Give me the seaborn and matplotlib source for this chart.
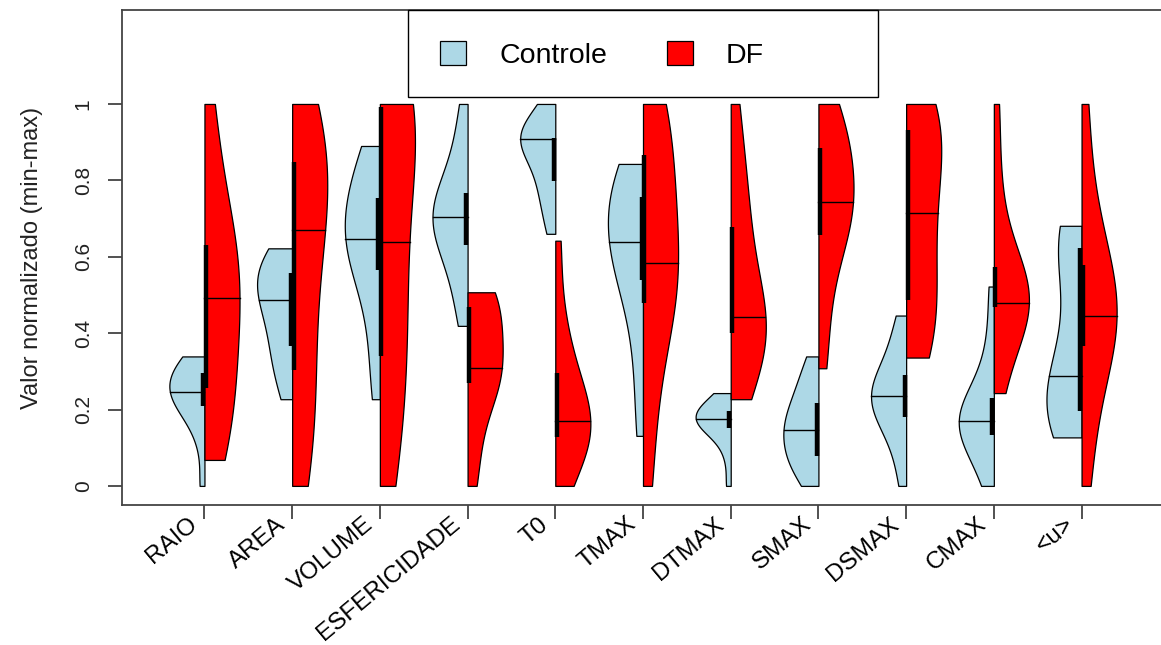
import numpy as np
import pandas as pd
import matplotlib
matplotlib.use("Agg")
import matplotlib.pyplot as plt
import matplotlib.transforms as mtransforms
import seaborn as sns
from matplotlib.patches import Patch, Rectangle

# Variáveis (eixo x) e valores normalizados
variaveis = ["RAIO", "AREA", "VOLUME", "ESFERICIDADE", "T0", "TMAX",
             "DTMAX", "SMAX", "DSMAX", "CMAX", "<u>"]
grupos = ["Controle", "DF"]

controle = {
    "RAIO": [0.0, 0.12, 0.18, 0.208, 0.22, 0.235, 0.247, 0.26, 0.275, 0.295, 0.31, 0.325, 0.339],
    "AREA": [0.227, 0.29, 0.34, 0.365, 0.42, 0.46, 0.487, 0.51, 0.53, 0.557, 0.58, 0.6, 0.622],
    "VOLUME": [0.227, 0.35, 0.48, 0.565, 0.6, 0.63, 0.647, 0.68, 0.72, 0.753, 0.8, 0.85, 0.89],
    "ESFERICIDADE": [0.419, 0.5, 0.58, 0.631, 0.66, 0.685, 0.703, 0.72, 0.745, 0.766, 0.82, 0.9, 1.0],
    "T0": [0.66, 0.72, 0.77, 0.797, 0.84, 0.88, 0.907, 0.908, 0.909, 0.91, 0.94, 0.97, 1.0],
    "TMAX": [0.131, 0.3, 0.45, 0.539, 0.58, 0.61, 0.638, 0.68, 0.72, 0.757, 0.79, 0.82, 0.843],
    "DTMAX": [0.0, 0.08, 0.13, 0.151, 0.16, 0.168, 0.175, 0.18, 0.188, 0.195, 0.21, 0.225, 0.243],
    "SMAX": [0.0, 0.04, 0.06, 0.077, 0.11, 0.13, 0.147, 0.17, 0.19, 0.216, 0.25, 0.29, 0.339],
    "DSMAX": [0.0, 0.09, 0.15, 0.181, 0.2, 0.22, 0.236, 0.25, 0.27, 0.291, 0.33, 0.39, 0.446],
    "CMAX": [0.0, 0.06, 0.11, 0.134, 0.15, 0.16, 0.17, 0.19, 0.21, 0.23, 0.28, 0.38, 0.522],
    "<u>": [0.127, 0.16, 0.18, 0.195, 0.23, 0.26, 0.288, 0.38, 0.5, 0.622, 0.65, 0.67, 0.681],
}

df_grupo = {
    "RAIO": [0.068, 0.12, 0.2, 0.256, 0.33, 0.42, 0.491, 0.52, 0.58, 0.631, 0.7, 0.82, 1.0],
    "AREA": [0.0, 0.1, 0.2, 0.304, 0.42, 0.55, 0.67, 0.72, 0.78, 0.849, 0.9, 0.95, 1.0],
    "VOLUME": [0.0, 0.12, 0.25, 0.339, 0.45, 0.56, 0.638, 0.8, 0.95, 0.993, 1.0, 1.0, 1.0],
    "ESFERICIDADE": [0.0, 0.1, 0.2, 0.269, 0.285, 0.3, 0.308, 0.36, 0.42, 0.469, 0.49, 0.5, 0.507],
    "T0": [0.0, 0.05, 0.1, 0.129, 0.15, 0.16, 0.171, 0.2, 0.25, 0.295, 0.35, 0.45, 0.642],
    "TMAX": [0.0, 0.2, 0.38, 0.478, 0.52, 0.55, 0.583, 0.65, 0.75, 0.866, 0.92, 0.96, 1.0],
    "DTMAX": [0.227, 0.29, 0.34, 0.4, 0.41, 0.43, 0.443, 0.5, 0.6, 0.679, 0.75, 0.85, 1.0],
    "SMAX": [0.308, 0.45, 0.58, 0.657, 0.69, 0.72, 0.742, 0.78, 0.83, 0.884, 0.92, 0.96, 1.0],
    "DSMAX": [0.336, 0.37, 0.42, 0.487, 0.56, 0.64, 0.714, 0.78, 0.86, 0.932, 0.96, 0.98, 1.0],
    "CMAX": [0.243, 0.33, 0.42, 0.469, 0.472, 0.476, 0.48, 0.5, 0.54, 0.574, 0.65, 0.8, 1.0],
    "<u>": [0.0, 0.15, 0.28, 0.365, 0.4, 0.42, 0.446, 0.49, 0.53, 0.579, 0.65, 0.78, 1.0],
}

cores = ["lightblue", "red"]

# Montando o dataframe longo
linhas = []
for var in variaveis:
    for v in controle[var]:
        linhas.append((var, "Controle", v))
    for v in df_grupo[var]:
        linhas.append((var, "DF", v))
dados = pd.DataFrame(linhas, columns=["variavel", "grupo", "valor"])

plt.rcParams["font.family"] = ["Liberation Sans", "DejaVu Sans"]

fig = plt.figure(figsize=(11.61, 6.45), dpi=100)
ax = fig.add_axes([122 / 1161, 1 - 505 / 645, 1042 / 1161, 495 / 645])

sns.violinplot(data=dados, x="variavel", y="valor", hue="grupo", order=variaveis,
               hue_order=grupos, split=True, cut=0, inner=None, density_norm="width",
               common_norm=False, palette=cores, linecolor="black", linewidth=0.9,
               width=0.8, gap=0, saturation=1, legend=False, ax=ax)

# Linhas de mediana e barra do intervalo interquartil (estilo vioplot)
for col in ax.collections:
    for path in col.get_paths():
        verts = path.vertices
        if len(verts) < 5:
            continue
        xm = verts[:, 0].mean()
        pos = int(round(xm))
        lado = -1 if xm < pos else 1
        var = variaveis[pos]
        valores = np.array(controle[var] if lado < 0 else df_grupo[var])
        q1, med, q3 = np.percentile(valores, [25, 50, 75])
        borda = verts[np.abs(verts[:, 0] - pos) > 1e-6]
        ordem = np.argsort(borda[:, 1])
        xb = np.interp(med, borda[ordem, 1], borda[ordem, 0])
        ax.plot([pos, xb], [med, med], color="black", lw=1.0, zorder=5)
        ax.plot([pos + lado * 0.017] * 2, [q1, q3], color="black", lw=3.2,
                solid_capstyle="butt", zorder=6)

ax.set_xlim(0.06 - 1, 11.94 - 1)
ax.set_ylim(-0.05, 1.246)
ax.set_yticks([0, 0.2, 0.4, 0.6, 0.8, 1.0])
ax.set_yticklabels(["0", "0.2", "0.4", "0.6", "0.8", "1"], rotation=90, va="center",
                   fontsize=15, color="#222222")
ax.set_xticks(range(len(variaveis)))
ax.tick_params(axis="y", direction="out", length=10, width=1.2, color="#333333", pad=11)
ax.tick_params(axis="x", direction="out", length=10, width=1.2, color="#333333", pad=2)
ax.set_xticklabels(variaveis, rotation=40, ha="right", va="center",
                   rotation_mode="anchor", fontsize=17.5)
# pequeno deslocamento para a esquerda dos rótulos do eixo x
desloc = mtransforms.ScaledTranslation(-10 / 100, 0, fig.dpi_scale_trans)
for lbl in ax.get_xticklabels():
    lbl.set_transform(lbl.get_transform() + desloc)
ax.set_xlabel("")
ax.set_ylabel("Valor normalizado (min-max)", fontsize=17, color="#222222", labelpad=22)
for s in ax.spines.values():
    s.set_color("#444444")
    s.set_linewidth(1.3)

# Legenda no topo, com caixa
caixa = Rectangle((0.2745, 0.824), 0.451, 0.176, transform=ax.transAxes,
                  facecolor="white", edgecolor="black", lw=1, clip_on=False, zorder=8)
ax.add_patch(caixa)
handles = [Patch(facecolor=c, edgecolor="black", lw=0.9) for c in cores]
ax.legend(handles, grupos, loc="center left", bbox_to_anchor=(0.305, 0.909),
          ncol=2, frameon=False, fontsize=20.5, handlelength=0.92, handleheight=0.92,
          handletextpad=1.16, columnspacing=2.1, borderpad=0, borderaxespad=0)
ax.get_legend().set_zorder(9)

fig.savefig("out.png", dpi=100)
